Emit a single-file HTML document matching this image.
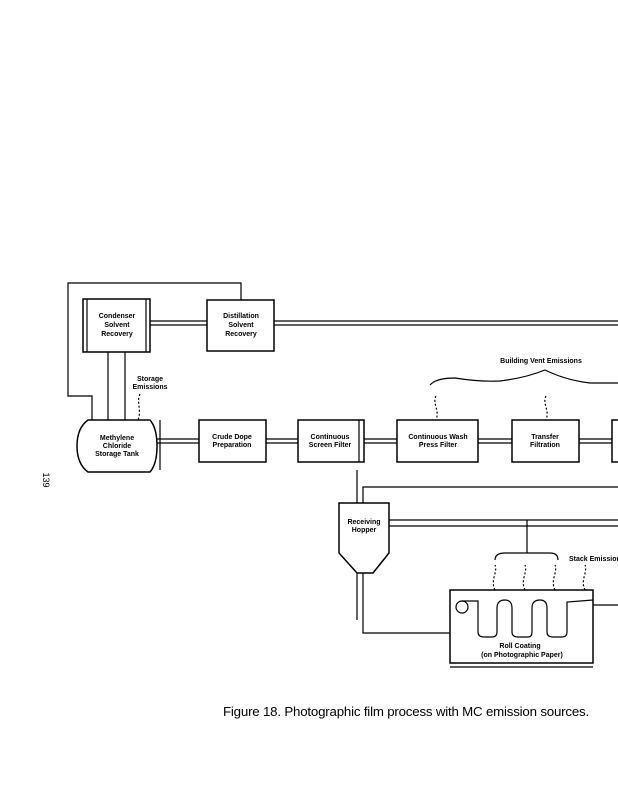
<!DOCTYPE html>
<html><head><style>
body{margin:0;background:#fff;width:618px;height:800px;overflow:hidden}
svg{display:block}
text{font-family:"Liberation Sans",sans-serif;font-size:7px;fill:#000;stroke:none;text-anchor:middle;font-weight:bold}
</style></head><body>
<svg width="618" height="800" viewBox="0 0 618 800" stroke="#000" fill="none" stroke-width="1.2">
<polyline points="241,300 241,283 68,283 68,396 92,396 92,420"/>
<rect x="83" y="299" width="67" height="53" stroke-width="1.5"/>
<line x1="87" y1="299" x2="87" y2="352"/><line x1="146" y1="299" x2="146" y2="352"/>
<text x="117" y="318">Condenser</text><text x="117" y="327">Solvent</text><text x="117" y="336">Recovery</text>
<rect x="207" y="300" width="67" height="51" stroke-width="1.5"/>
<text x="241" y="318">Distillation</text><text x="241" y="327">Solvent</text><text x="241" y="336">Recovery</text>
<line x1="150" y1="321" x2="207" y2="321"/><line x1="150" y1="325" x2="207" y2="325"/>
<line x1="274" y1="321" x2="618" y2="321"/><line x1="274" y1="325" x2="618" y2="325"/>
<line x1="108" y1="352" x2="108" y2="420"/><line x1="125" y1="352" x2="125" y2="420"/>
<text x="150" y="381">Storage</text><text x="150" y="389">Emissions</text>
<path d="M140,394 C136,402 142,410 138,420" stroke-dasharray="2,2"/>
<path d="M88,420 L150,420 Q157,428 157,446 Q157,464 150,472 L88,472 Q77,464 77,446 Q77,428 88,420 Z" stroke-width="1.5"/>
<line x1="160" y1="420" x2="160" y2="470"/>
<text x="117" y="440">Methylene</text><text x="117" y="448">Chloride</text><text x="117" y="456">Storage Tank</text>
<line x1="157" y1="439" x2="199" y2="439"/><line x1="157" y1="443" x2="199" y2="443"/>
<rect x="199" y="420" width="67" height="42" stroke-width="1.5"/>
<text x="232" y="439">Crude Dope</text><text x="232" y="447">Preparation</text>
<line x1="266" y1="439" x2="298" y2="439"/><line x1="266" y1="443" x2="298" y2="443"/>
<rect x="298" y="420" width="66" height="42" stroke-width="1.5"/>
<line x1="359" y1="420" x2="359" y2="462"/>
<text x="330" y="439">Continuous</text><text x="330" y="447">Screen Filter</text>
<line x1="364" y1="439" x2="397" y2="439"/><line x1="364" y1="443" x2="397" y2="443"/>
<rect x="397" y="420" width="81" height="42" stroke-width="1.5"/>
<text x="438" y="439">Continuous Wash</text><text x="438" y="447">Press Filter</text>
<line x1="478" y1="439" x2="512" y2="439"/><line x1="478" y1="443" x2="512" y2="443"/>
<rect x="512" y="420" width="67" height="42" stroke-width="1.5"/>
<text x="545" y="439">Transfer</text><text x="545" y="447">Filtration</text>
<line x1="579" y1="439" x2="612" y2="439"/><line x1="579" y1="443" x2="612" y2="443"/>
<polyline points="618,420 612,420 612,462 618,462" stroke-width="1.5"/>
<text x="541" y="363">Building Vent Emissions</text>
<path d="M430,385 Q436,378 455,378 Q480,382 500,381 Q525,378 545,370 Q565,380 590,383 L618,383"/>
<path d="M436,396 C432,404 440,410 436,420" stroke-dasharray="2,2"/>
<path d="M546,396 C542,404 550,410 546,420" stroke-dasharray="2,2"/>
<polyline points="618,487 363,487 363,503"/>
<line x1="357" y1="470" x2="357" y2="503"/>
<path d="M339,503 L389,503 L389,553 L373,573 L357,573 L339,553 Z" stroke-width="1.5"/>
<text x="364" y="524">Receiving</text><text x="364" y="532">Hopper</text>
<line x1="389" y1="520" x2="618" y2="520"/><line x1="389" y1="526" x2="618" y2="526"/>
<line x1="527" y1="520" x2="527" y2="553"/>
<path d="M495,560 Q495,553 505,553 L550,553 Q558,553 558,560"/>
<text x="569" y="561" style="text-anchor:start">Stack Emissions</text>
<path d="M495,590 C490,580 498,572 495,565" stroke-dasharray="2,2"/>
<path d="M525,590 C520,580 528,572 525,565" stroke-dasharray="2,2"/>
<path d="M555,590 C550,580 558,572 555,565" stroke-dasharray="2,2"/>
<path d="M585,590 C580,580 588,572 585,565" stroke-dasharray="2,2"/>
<polyline points="363,573 363,633 450,633"/>
<line x1="357" y1="573" x2="357" y2="620"/>
<rect x="450" y="590" width="143" height="73" stroke-width="1.5"/>
<line x1="450" y1="667" x2="593" y2="667"/>
<circle cx="462" cy="607" r="6"/>
<path d="M462,601 L478,601 L478,632 Q478,637 484,637 L492,637 Q497,637 497,632 L497,608 Q497,600 505,600 Q512,600 512,608 L512,632 Q512,637 518,637 L528,637 Q532,637 532,632 L532,608 Q532,600 540,600 Q547,600 547,608 L547,632 Q547,637 553,637 L562,637 Q567,637 567,632 L567,602 L593,600"/>
<text x="520" y="648">Roll Coating</text><text x="522" y="657">(on Photographic Paper)</text>
<line x1="593" y1="605" x2="618" y2="605"/>
<text x="406" y="716" style="font-size:13.3px;font-weight:normal;letter-spacing:-0.2px" stroke="#000" stroke-width="0.3">Figure 18.  Photographic film process with MC emission sources.</text>
<text x="0" y="0" transform="translate(43,480) rotate(90)" style="font-size:9px;font-weight:normal">139</text>
</svg>
</body></html>
